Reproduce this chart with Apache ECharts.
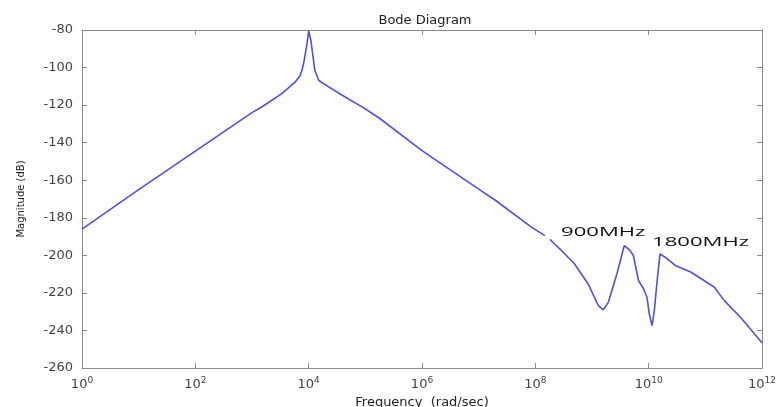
<!DOCTYPE html>
<html>
<head>
<meta charset="utf-8">
<script src="https://cdn.jsdelivr.net/npm/echarts@6/dist/echarts.min.js"></script>
<style>
html,body{margin:0;padding:0;background:#fff;}
#chart{width:776px;height:407px;}
</style>
</head>
<body>
<div id="chart"></div>
<script>
// log10 of frequency (rad/sec)
const exponents = [0, 1, 2, 3, 3.17, 3.52, 3.76, 3.85, 3.88, 3.91, 3.94, 3.97, 4.0, 4.04, 4.07, 4.11, 4.18, 4.36, 4.65, 4.95, 5.25, 6, 7.04, 7.3, 7.93, 8.17, 8.21, 8.26, 8.33, 8.46, 8.69, 8.93, 9.11, 9.2, 9.29, 9.44, 9.57, 9.67, 9.73, 9.82, 9.91, 9.97, 10.01, 10.06, 10.1, 10.15, 10.2, 10.29, 10.47, 10.75, 11.16, 11.33, 11.62, 12];
// magnitude (dB)
const magnitudes = [-186, -165, -144.5, -124, -121, -114, -107.8, -104.2, -101.6, -98, -92.7, -87.4, -80.5, -85.6, -92.7, -101.6, -106.9, -110.4, -115.8, -121.1, -127, -144.2, -165.5, -170.8, -185, -189.5, null, -191.5, -193.7, -197.4, -204.5, -215.1, -226.7, -229, -224.9, -209.8, -194.8, -197.4, -200.1, -213.4, -217.8, -222.3, -231.1, -237.4, -229.4, -213.4, -199.2, -201, -205.4, -209, -217, -224, -233, -246.5];
const xTickExponents = [0, 2, 4, 6, 8, 10, 12];
const yTicks = [-260, -240, -220, -200, -180, -160, -140, -120, -100, -80];
const annotations = ['900MHz', '1800MHz'];
const titleText = 'Bode Diagram';
const xName = 'Frequency  (rad/sec)';
const yName = 'Magnitude (dB)';

const seriesData = exponents.map((e, i) => [Math.pow(10, e), magnitudes[i] === null ? '-' : magnitudes[i]]);

const axisColor = '#8a8a8a';
const labelColor = '#444';
const font = 'DejaVu Sans';

const chart = echarts.init(document.getElementById('chart'), null, {renderer: 'canvas'});

function xLabel(v) {
  const e = Math.round(Math.log10(v));
  return '{b|10}{s|' + e + '}';
}

const commonX = {
  type: 'log',
  logBase: 10,
  min: Math.pow(10, xTickExponents[0]),
  max: Math.pow(10, xTickExponents[xTickExponents.length - 1]),
  interval: 2,
  axisLine: {show: true, lineStyle: {color: axisColor, width: 1}},
  axisTick: {show: true, inside: true, length: 5, lineStyle: {color: axisColor}},
  minorTick: {show: false},
  splitLine: {show: false}
};
const commonY = {
  type: 'value',
  min: yTicks[0],
  max: yTicks[yTicks.length - 1],
  interval: 20,
  axisLine: {show: true, lineStyle: {color: axisColor, width: 1}},
  axisTick: {show: true, inside: true, length: 5, lineStyle: {color: axisColor}},
  splitLine: {show: false}
};

chart.setOption({
  animation: false,
  backgroundColor: '#fff',
  title: {
    text: titleText,
    left: 420,
    textAlign: 'center',
    top: 9,
    textStyle: {fontFamily: font, fontSize: 13, fontWeight: 'normal', color: '#222'}
  },
  grid: {left: 82, right: 14, top: 30, bottom: 39, containLabel: false, outerBoundsMode: 'none'},
  xAxis: [
    Object.assign({}, commonX, {
      position: 'bottom',
      name: xName,
      nameLocation: 'middle',
      nameGap: 28,
      nameTextStyle: {fontFamily: font, fontSize: 13, color: '#222'},
      axisLabel: {
        show: true,
        margin: 8,
        formatter: xLabel,
        rich: {
          b: {fontFamily: font, fontSize: 13, color: labelColor},
          s: {fontFamily: font, fontSize: 9, color: labelColor, padding: [0, 0, 9, 0]}
        }
      }
    }),
    Object.assign({}, commonX, {position: 'top', axisLabel: {show: false}})
  ],
  yAxis: [
    Object.assign({}, commonY, {
      position: 'left',
      name: yName,
      nameLocation: 'middle',
      nameGap: 56,
      nameTextStyle: {fontFamily: font, fontSize: 10, color: '#222'},
      axisLabel: {show: true, margin: 9, fontFamily: font, fontSize: 13, color: labelColor}
    }),
    Object.assign({}, commonY, {position: 'right', axisLabel: {show: false}})
  ],
  series: [{
    type: 'line',
    xAxisIndex: 0,
    yAxisIndex: 0,
    data: seriesData,
    showSymbol: false,
    symbol: 'none',
    connectNulls: false,
    lineStyle: {color: '#5050e0', width: 1.6},
    z: 3
  }],
  graphic: [
    {type: 'text', x: 561, y: 232, scaleX: 1.7, z: 10,
     style: {text: annotations[0], font: '13px "Open Sans"', fill: '#111', verticalAlign: 'middle', align: 'left'}},
    {type: 'text', x: 652, y: 242, scaleX: 1.7, z: 10,
     style: {text: annotations[1], font: '13px "Open Sans"', fill: '#111', verticalAlign: 'middle', align: 'left'}}
  ]
});
</script>
</body>
</html>
